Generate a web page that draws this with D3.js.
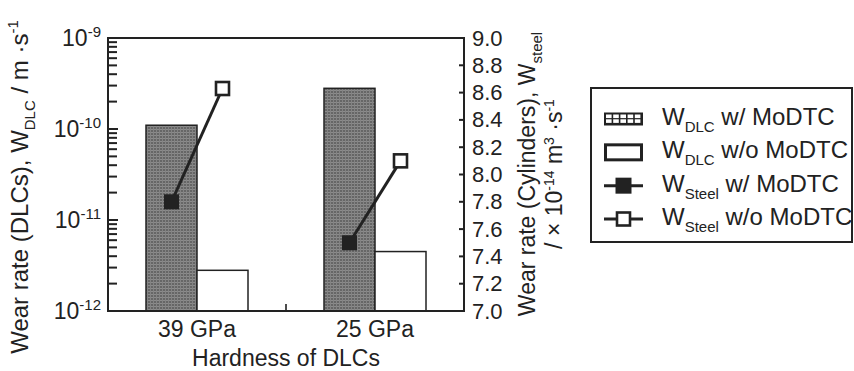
<!DOCTYPE html>
<html>
<head>
<meta charset="utf-8">
<script src="https://cdn.jsdelivr.net/npm/d3@7"></script>
<style>
  body { margin: 0; background: #fff; }
  svg text { font-family: "Liberation Sans", Arial, sans-serif; fill: #222; }
</style>
</head>
<body>
<svg id="chart" width="854" height="371"></svg>
<script>
// data
let categories = ["39 GPa", "25 GPa"];
let dlcWith = [1.1e-10, 2.8e-10];
let dlcWithout = [2.8e-12, 4.5e-12];
let steelWith = [7.8, 7.5];
let steelWithout = [8.63, 8.1];
let leftDecades = [-12, -11, -10, -9];
let leftMinor = [1, 2, 3, 4, 5, 6, 7, 8, 9];
let rightTicks = [7.0, 7.2, 7.4, 7.6, 7.8, 8.0, 8.2, 8.4, 8.6, 8.8, 9.0];
let legendLabels = [["W", "DLC", " w/ MoDTC"], ["W", "DLC", " w/o MoDTC"],
                    ["W", "Steel", " w/ MoDTC"], ["W", "Steel", " w/o MoDTC"]];
let legendKinds = ["barWith", "barWithout", "lineWith", "lineWithout"];

let svg = d3.select("#chart");
let ink = "#222";

let plotL = 108, plotR = 464, plotT = 38, plotB = 311;

let x = d3.scaleBand().domain(categories).range([plotL, plotR]);
let xSub = d3.scaleBand().domain(["with", "without"]).range([38, 140]);
let yLeft = d3.scaleLog().domain([1e-12, 1e-9]).range([plotB, plotT]);
let yRight = d3.scaleLinear().domain([7, 9]).range([plotB, plotT]);

// grey fine grid fill for the bars
let defs = svg.append("defs");
let pat = defs.append("pattern")
    .attr("id", "grid")
    .attr("patternUnits", "userSpaceOnUse")
    .attr("width", 3).attr("height", 3);
pat.append("rect").attr("width", 3).attr("height", 3).attr("fill", "#666");
pat.append("rect").attr("width", 3).attr("height", 1).attr("fill", "#8c8c8c");
pat.append("rect").attr("width", 1).attr("height", 3).attr("fill", "#838383");

// bars
svg.selectAll(".barWith")
    .data(categories)
    .enter()
    .append("rect")
    .attr("x", d => x(d) + xSub("with"))
    .attr("y", (d, i) => yLeft(dlcWith[i]))
    .attr("width", xSub.bandwidth())
    .attr("height", (d, i) => plotB - yLeft(dlcWith[i]))
    .attr("fill", "url(#grid)")
    .attr("stroke", ink)
    .attr("stroke-width", 1.5);

svg.selectAll(".barWithout")
    .data(categories)
    .enter()
    .append("rect")
    .attr("x", d => x(d) + xSub("without"))
    .attr("y", (d, i) => yLeft(dlcWithout[i]))
    .attr("width", xSub.bandwidth())
    .attr("height", (d, i) => plotB - yLeft(dlcWithout[i]))
    .attr("fill", "#fff")
    .attr("stroke", ink)
    .attr("stroke-width", 1.5);

// steel wear lines + markers
let mx = (c, k) => x(c) + xSub(k) + xSub.bandwidth() / 2;
categories.forEach(function(c, i) {
    svg.append("line")
        .attr("x1", mx(c, "with")).attr("y1", yRight(steelWith[i]))
        .attr("x2", mx(c, "without")).attr("y2", yRight(steelWithout[i]))
        .attr("stroke", ink).attr("stroke-width", 3);
    svg.append("rect")
        .attr("x", mx(c, "with") - 7.5).attr("y", yRight(steelWith[i]) - 7.5)
        .attr("width", 15).attr("height", 15)
        .attr("fill", ink);
    svg.append("rect")
        .attr("x", mx(c, "without") - 6.5).attr("y", yRight(steelWithout[i]) - 6.5)
        .attr("width", 13).attr("height", 13)
        .attr("fill", "#fff").attr("stroke", ink).attr("stroke-width", 2.6);
});

// left log axis ticks, drawn inside (decades + minor 2..9)
let leftTickVals = d3.cross(leftDecades.slice(0, 3), leftMinor)
    .map(d => d[1] * Math.pow(10, d[0]))
    .concat([Math.pow(10, leftDecades[3])]);
svg.selectAll(".ltick")
    .data(leftTickVals)
    .enter()
    .append("rect")
    .attr("class", "ltick")
    .attr("x", plotL)
    .attr("y", d => yLeft(d) - 1)
    .attr("width", (d, i) => i % 9 === 0 ? 10 : 9)
    .attr("height", 2)
    .attr("fill", ink);

leftDecades.forEach(function(e) {
    let lab = svg.append("text")
        .attr("x", 101).attr("y", yLeft(Math.pow(10, e)) + 8)
        .attr("text-anchor", "end")
        .style("font-size", "23px");
    lab.append("tspan").text("10");
    lab.append("tspan").attr("dy", -9).style("font-size", "15px").text("-" + Math.abs(e));
});

// right linear axis: inward ticks and labels
svg.selectAll(".rtick")
    .data(rightTicks)
    .enter()
    .append("rect")
    .attr("class", "rtick")
    .attr("x", plotR - 5)
    .attr("y", d => yRight(d) - 1)
    .attr("width", 5)
    .attr("height", 2)
    .attr("fill", ink);
let rightAxis = svg.append("g")
    .attr("transform", "translate(" + plotR + ",0)")
    .call(d3.axisRight(yRight).tickValues(rightTicks).tickSize(0)
        .tickPadding(8).tickFormat(d3.format(".1f")));
rightAxis.select(".domain").remove();
rightAxis.selectAll("text").style("font-size", "22px").attr("fill", ink)
    .style("font-family", "'Liberation Sans', Arial, sans-serif");

// bottom: category labels and middle tick
categories.forEach(function(c) {
    svg.append("text")
        .attr("x", x(c) + x.bandwidth() / 2).attr("y", 337)
        .attr("text-anchor", "middle")
        .style("font-size", "23px")
        .text(c);
});
svg.append("rect")
    .attr("x", x(categories[1]) - 0.8).attr("y", plotB - 7)
    .attr("width", 1.6).attr("height", 7)
    .attr("fill", ink);

// frame
svg.append("rect")
    .attr("x", plotL).attr("y", plotT)
    .attr("width", plotR - plotL).attr("height", plotB - plotT)
    .attr("fill", "none").attr("stroke", ink).attr("stroke-width", 2);

// axis titles
svg.append("text")
    .attr("x", (plotL + plotR) / 2).attr("y", 366)
    .attr("text-anchor", "middle")
    .style("font-size", "23px")
    .text("Hardness of DLCs");

let yTitle = svg.append("text")
    .attr("transform", "translate(28,187) rotate(-90)")
    .attr("text-anchor", "middle")
    .style("font-size", "24px");
yTitle.append("tspan").text("Wear rate (DLCs), W");
yTitle.append("tspan").attr("dy", 7).style("font-size", "15px").text("DLC");
yTitle.append("tspan").attr("dy", -7).text(" / m ·s");
yTitle.append("tspan").attr("dy", -10).style("font-size", "15px").text("-1");

let y2Title = svg.append("text")
    .attr("transform", "translate(535,174) rotate(-90)")
    .attr("text-anchor", "middle")
    .style("font-size", "23px");
y2Title.append("tspan").text("Wear rate (Cylinders), W");
y2Title.append("tspan").attr("dy", 7).style("font-size", "15px").text("steel");

let y2Title2 = svg.append("text")
    .attr("transform", "translate(562,174) rotate(-90)")
    .attr("text-anchor", "middle")
    .style("font-size", "23px");
y2Title2.append("tspan").text("/ × 10");
y2Title2.append("tspan").attr("dy", -8).style("font-size", "14px").text("-14");
y2Title2.append("tspan").attr("dy", 8).text(" m");
y2Title2.append("tspan").attr("dy", -8).style("font-size", "14px").text("3");
y2Title2.append("tspan").attr("dy", 8).text(" ·s");
y2Title2.append("tspan").attr("dy", -8).style("font-size", "14px").text("-1");

// legend
svg.append("rect")
    .attr("x", 591).attr("y", 88)
    .attr("width", 261).attr("height", 154)
    .attr("fill", "none").attr("stroke", ink).attr("stroke-width", 2);

let rowY = d3.scalePoint().domain(legendKinds).range([119, 219]);
let symX = 604, symW = 39;

legendKinds.forEach(function(kind, i) {
    let cy = rowY(kind);
    if (kind === "barWith") {
        svg.append("rect")
            .attr("x", symX).attr("y", cy - 6.5).attr("width", symW).attr("height", 13)
            .attr("fill", ink);
        let cells = d3.cross(d3.range(5), d3.range(2));
        svg.selectAll(".cell")
            .data(cells)
            .enter()
            .append("rect")
            .attr("x", d => symX + 2 + d[0] * 7.2)
            .attr("y", d => cy - 4.5 + d[1] * 4.8)
            .attr("width", 5.6).attr("height", 3.6)
            .attr("fill", "#fff");
    } else if (kind === "barWithout") {
        svg.append("rect")
            .attr("x", symX + 1.5).attr("y", cy - 7.5).attr("width", symW - 3).attr("height", 15)
            .attr("fill", "#fff").attr("stroke", ink).attr("stroke-width", 3);
    } else {
        svg.append("line")
            .attr("x1", symX).attr("x2", symX + symW)
            .attr("y1", cy).attr("y2", cy)
            .attr("stroke", ink).attr("stroke-width", 3);
        if (kind === "lineWith") {
            svg.append("rect")
                .attr("x", symX + symW / 2 - 8).attr("y", cy - 8)
                .attr("width", 16).attr("height", 16).attr("fill", ink);
        } else {
            svg.append("rect")
                .attr("x", symX + symW / 2 - 6.5).attr("y", cy - 6.5)
                .attr("width", 13).attr("height", 13)
                .attr("fill", "#fff").attr("stroke", ink).attr("stroke-width", 2.6);
        }
    }
    let lab = svg.append("text")
        .attr("x", 662).attr("y", cy + 6)
        .style("font-size", "24px");
    lab.append("tspan").text(legendLabels[i][0]);
    lab.append("tspan").attr("dy", 7).style("font-size", "15px").text(legendLabels[i][1]);
    lab.append("tspan").attr("dy", -7).text(legendLabels[i][2]);
});
</script>
</body>
</html>
